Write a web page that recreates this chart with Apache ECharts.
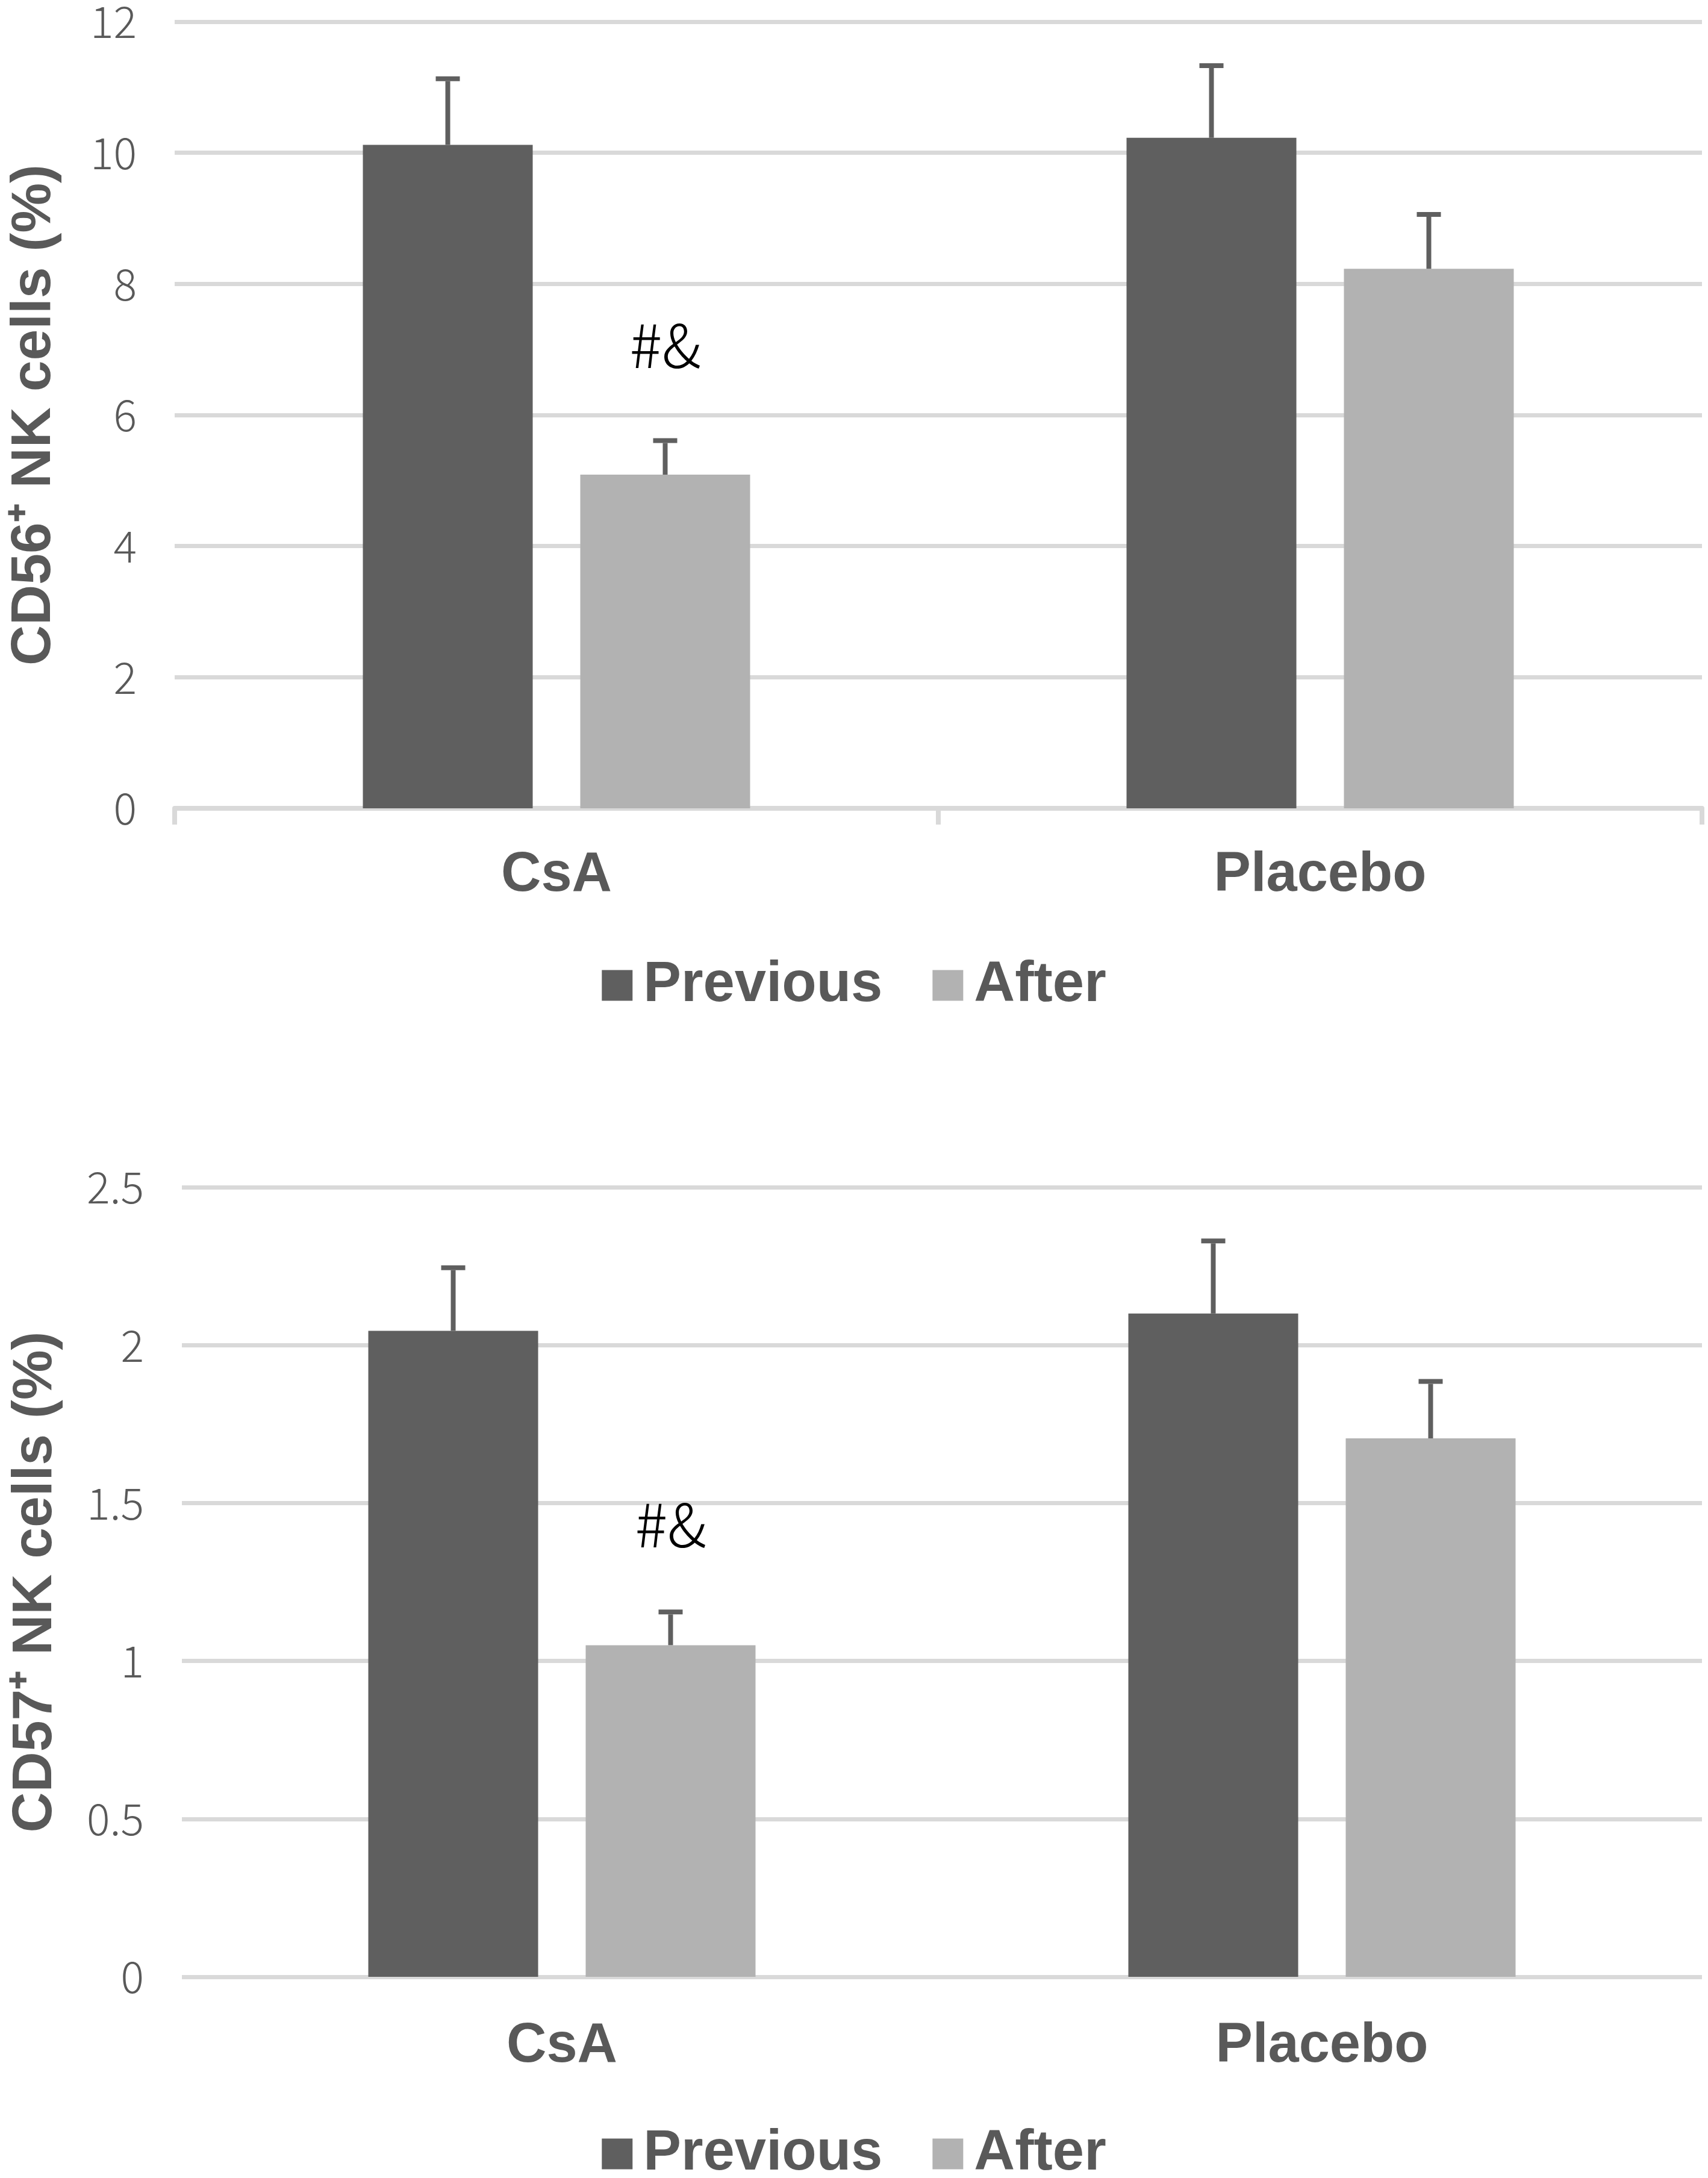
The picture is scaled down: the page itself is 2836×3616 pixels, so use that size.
<!DOCTYPE html>
<html>
<head>
<meta charset="utf-8">
<script src="https://cdn.jsdelivr.net/npm/echarts@6/dist/echarts.min.js"></script>
<style>
html, body { margin: 0; padding: 0; background: #fff; }
#main { width: 2836px; height: 3616px; }
</style>
</head>
<body>
<div id="main"></div>
<script>
// groups and series
var categories = ['CsA', 'Placebo'];
var seriesNames = ['Previous', 'After'];

// CD56+ NK cells (%), bar value and top of error bar
var cd56Previous = [10.12, 10.23];
var cd56PreviousTop = [11.13, 11.33];
var cd56After = [5.09, 8.23];
var cd56AfterTop = [5.61, 9.06];
var cd56Marks = ['#&', ''];
var cd56Ticks = [0, 2, 4, 6, 8, 10, 12];

// CD57+ NK cells (%)
var cd57Previous = [2.045, 2.10];
var cd57PreviousTop = [2.245, 2.33];
var cd57After = [1.05, 1.705];
var cd57AfterTop = [1.155, 1.885];
var cd57Marks = ['#&', ''];
var cd57Ticks = [0, 0.5, 1, 1.5, 2, 2.5];

var darkGrey = '#5f5f5f';
var lightGrey = '#b2b2b2';
var textGrey = '#595959';
var gridGrey = '#d9d9d9';
var barWidth = 282;
var barGapPct = 28;
var errOffset = barWidth / 2 + barWidth * barGapPct / 200;

function errorBars(offset) {
	return function (params, api) {
		var base = api.coord([api.value(0), api.value(1)]);
		var top = api.coord([api.value(0), api.value(2)]);
		var x = base[0] + offset;
		var style = { stroke: darkGrey, lineWidth: 8 };
		return {
			type: 'group',
			children: [
				{ type: 'line', shape: { x1: x, y1: base[1], x2: x, y2: top[1] + 4 }, style: style },
				{ type: 'line', shape: { x1: x - 20, y1: top[1], x2: x + 20, y2: top[1] }, style: style }
			]
		};
	};
}

function pairs(vals, tops) {
	return vals.map(function (v, i) { return [i, v, tops[i]]; });
}

function withMarks(vals, marks, dist) {
	return vals.map(function (v, i) {
		if (!marks[i]) return v;
		return {
			value: v,
			label: {
				show: true, position: 'top', distance: dist, formatter: marks[i],
				fontFamily: 'Noto Sans CJK SC', fontWeight: 300, fontSize: 100, color: '#000'
			}
		};
	});
}

function xAxisFor(idx, showLine, labelMargin) {
	return {
		type: 'category', gridIndex: idx, data: categories,
		axisLine: { show: showLine, lineStyle: { color: gridGrey, width: 8 } },
		axisTick: { show: showLine, length: 27, lineStyle: { color: gridGrey, width: 8 } },
		axisLabel: {
			margin: labelMargin, fontSize: 92, fontWeight: 'bold', color: textGrey,
			fontFamily: 'Liberation Sans'
		}
	};
}

function yAxisFor(idx, ticks, name, gap) {
	return {
		type: 'value', gridIndex: idx,
		min: ticks[0], max: ticks[ticks.length - 1], interval: ticks[1] - ticks[0],
		name: name, nameLocation: 'middle', nameRotate: 90, nameGap: gap,
		nameTextStyle: { fontSize: 93, fontWeight: 'bold', color: textGrey, fontFamily: 'Liberation Sans' },
		axisLine: { show: false },
		axisTick: { show: false },
		splitLine: { lineStyle: { color: gridGrey, width: 7 } },
		axisLabel: {
			margin: 63, fontSize: 72, color: textGrey,
			fontFamily: 'Noto Sans CJK SC', fontWeight: 300
		}
	};
}

function legendFor(top) {
	return {
		top: top, left: 'center', itemWidth: 51, itemHeight: 51, itemGap: 83,
		icon: 'rect',
		data: seriesNames,
		textStyle: { fontSize: 94, fontWeight: 'bold', color: textGrey, fontFamily: 'Liberation Sans', padding: [0, 0, 0, 13] }
	};
}

var myChart = echarts.init(document.getElementById('main'));
var option = {
	backgroundColor: '#fff',
	animation: false,
	legend: [legendFor(1584), legendFor(3524)],
	grid: [
		{ left: 290, right: 10, top: 35, height: 1307 },
		{ left: 302, right: 10, top: 1971, height: 1311 }
	],
	xAxis: [xAxisFor(0, true, 66), xAxisFor(1, false, 70)],
	yAxis: [
		yAxisFor(0, cd56Ticks, 'CD56\u207A NK cells (%)', 186),
		yAxisFor(1, cd57Ticks, 'CD57\u207A NK cells (%)', 196)
	],
	series: [
		{ name: seriesNames[0], type: 'bar', xAxisIndex: 0, yAxisIndex: 0, barWidth: barWidth, barGap: barGapPct + '%',
			itemStyle: { color: darkGrey }, data: cd56Previous },
		{ name: seriesNames[1], type: 'bar', xAxisIndex: 0, yAxisIndex: 0, barWidth: barWidth, barGap: barGapPct + '%',
			itemStyle: { color: lightGrey }, data: withMarks(cd56After, cd56Marks, 165) },
		{ type: 'custom', xAxisIndex: 0, yAxisIndex: 0, z: 5, renderItem: errorBars(-errOffset),
			data: pairs(cd56Previous, cd56PreviousTop) },
		{ type: 'custom', xAxisIndex: 0, yAxisIndex: 0, z: 5, renderItem: errorBars(errOffset),
			data: pairs(cd56After, cd56AfterTop) },

		{ name: seriesNames[0], type: 'bar', xAxisIndex: 1, yAxisIndex: 1, barWidth: barWidth, barGap: barGapPct + '%',
			itemStyle: { color: darkGrey }, data: cd57Previous },
		{ name: seriesNames[1], type: 'bar', xAxisIndex: 1, yAxisIndex: 1, barWidth: barWidth, barGap: barGapPct + '%',
			itemStyle: { color: lightGrey }, data: withMarks(cd57After, cd57Marks, 150) },
		{ type: 'custom', xAxisIndex: 1, yAxisIndex: 1, z: 5, renderItem: errorBars(-errOffset),
			data: pairs(cd57Previous, cd57PreviousTop) },
		{ type: 'custom', xAxisIndex: 1, yAxisIndex: 1, z: 5, renderItem: errorBars(errOffset),
			data: pairs(cd57After, cd57AfterTop) }
	]
};
myChart.setOption(option);
</script>
</body>
</html>
